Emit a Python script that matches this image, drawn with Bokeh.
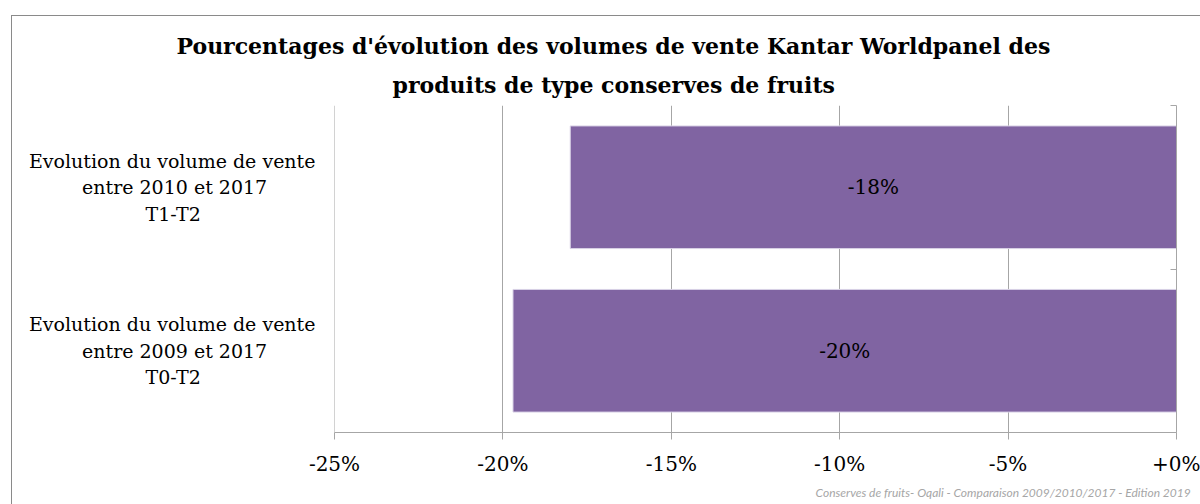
from bokeh.plotting import figure
from bokeh.models import (Range1d, LinearAxis, FixedTicker, CustomJSTickFormatter,
                          ColumnDataSource, LabelSet, Title, Span)
from bokeh.core.properties import value
from bokeh.embed import file_html
from bokeh.resources import INLINE

# ---- data ----
keys = ["T0-T2", "T1-T2"]  # bottom to top
category_lines = [["Evolution du volume de vente", "entre 2009 et 2017", "T0-T2"],
                  ["Evolution du volume de vente", "entre 2010 et 2017", "T1-T2"]]
values = [-0.197, -0.18]
bar_labels = ["-20%", "-18%"]
x_ticks = [-0.25, -0.20, -0.15, -0.10, -0.05, 0.0]
title_line1 = "Pourcentages d'évolution des volumes de vente Kantar Worldpanel des"
title_line2 = "produits de type conserves de fruits"
footer_text = "Conserves de fruits- Oqali - Comparaison 2009/2010/2017  - Edition 2019"

SERIF = "DejaVu Serif"
GRID = "#a6a6a6"
BORDER = "#8a8a8a"
# trailing non-breaking spaces so that the right-aligned axis lines look centred
LINE_PADS = [0, 8, 19]
NBSP = "\u00a0"


def centred(lines):
    return "\n".join(l + NBSP * n for l, n in zip(lines, LINE_PADS))


ypos = [i + 0.5 for i in range(len(keys))]
src = ColumnDataSource(dict(key=keys, y=ypos, value=values, mid=[v / 2 for v in values],
                            label=bar_labels))

p = figure(width=1200, height=504, x_range=Range1d(x_ticks[0], x_ticks[-1]),
           y_range=Range1d(0, len(keys)),
           output_backend="svg", toolbar_location=None,
           min_border_left=334, min_border_right=24, min_border_top=105,
           min_border_bottom=72)
p.outline_line_color = None
p.background_fill_color = "white"
p.border_fill_alpha = 0
p.styles = {
    "background-color": "white",
    "background-image": (f"linear-gradient({BORDER},{BORDER}), "
                         f"linear-gradient({BORDER},{BORDER})"),
    "background-position": "11px 15px, 11px 15px",
    "background-size": "1px 100%, 100% 1px",
    "background-repeat": "no-repeat",
}

# title (two single-line titles)
p.title = None
p.add_layout(Title(text=title_line2, align="left", offset=58, standoff=16, text_font=SERIF,
                   text_font_style="bold", text_font_size="22px",
                   text_color="black"), "above")
p.add_layout(Title(text=title_line1, align="left", offset=-158, standoff=6, text_font=SERIF,
                   text_font_style="bold", text_font_size="22px",
                   text_color="black"), "above")

# x axis
p.xaxis.ticker = FixedTicker(ticks=x_ticks)
p.xaxis.formatter = CustomJSTickFormatter(
    code="return (tick >= 0 ? '+' : '') + Math.round(tick * 100) + '%';")
p.xaxis.major_tick_out = 7
p.xaxis.major_tick_in = 0
p.xaxis.minor_tick_line_color = None
p.xaxis.axis_line_color = GRID
p.xaxis.major_tick_line_color = GRID
p.xaxis.major_label_text_font = SERIF
p.xaxis.major_label_text_font_size = "20px"
p.xaxis.major_label_text_color = "black"
p.xaxis.major_label_standoff = 12

# category labels on the left
p.yaxis.ticker = FixedTicker(ticks=ypos)
p.yaxis.major_label_overrides = {y: centred(c) for y, c in zip(ypos, category_lines)}
p.yaxis.major_label_text_font = SERIF
p.yaxis.major_label_text_font_size = "19px"
p.yaxis.major_label_text_color = "black"
p.yaxis.major_label_standoff = 13
p.yaxis.axis_line_color = None
p.yaxis.major_tick_line_color = None
p.yaxis.minor_tick_line_color = None

p.xgrid.ticker = FixedTicker(ticks=x_ticks)
p.xgrid.grid_line_color = GRID
p.ygrid.visible = False
p.add_layout(Span(location=x_ticks[0], dimension="height", line_color=GRID, line_width=1))

# category axis at zero (right side), ticks at category boundaries
ax = LinearAxis(ticker=FixedTicker(ticks=[], minor_ticks=list(range(len(keys) + 1))),
                major_tick_line_color=None, minor_tick_in=6, minor_tick_out=0,
                minor_tick_line_color=GRID, major_label_text_font_size="1px",
                axis_line_color=GRID)
p.add_layout(ax, "right")

# bars
p.hbar(y="y", left=0, right="value", height=0.75, source=src,
       fill_color="#8064A2", line_color="#d9d2e6", line_width=1)

p.add_layout(LabelSet(x="mid", y="y", text="label", source=src,
                      text_align="center", text_baseline="middle",
                      text_font=value(SERIF), text_font_size="20px", text_color="black"))

p.add_layout(Title(text=footer_text, align="right", text_font="Lato",
                   text_font_style="italic", text_font_size="12px",
                   text_color="#a6a6a6", offset=-17, standoff=8), "below")

open("out.html", "w").write(file_html(p, INLINE))
